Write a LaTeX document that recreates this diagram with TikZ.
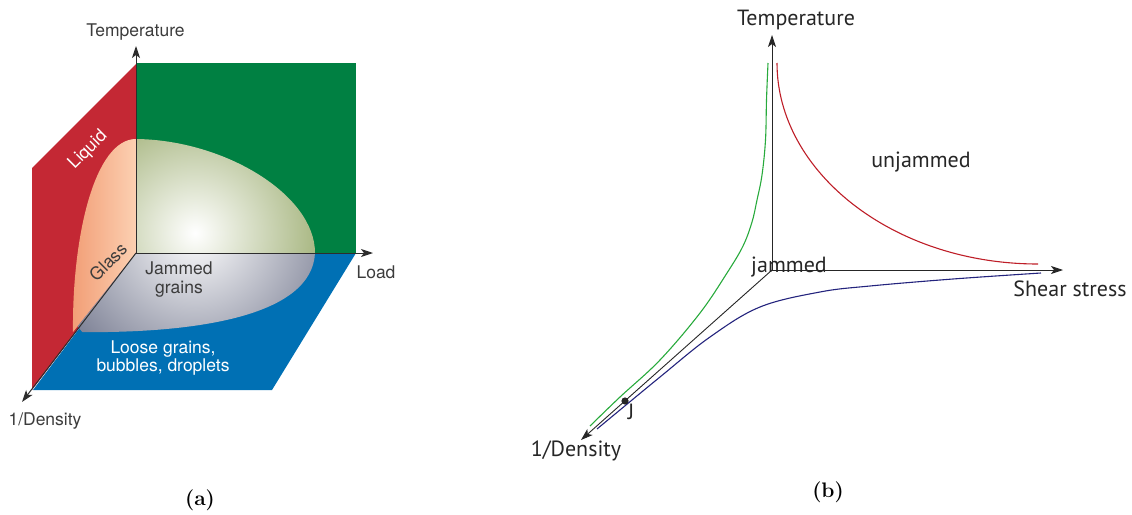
\documentclass[tikz,border=0pt]{standalone}
\usepackage{fontspec}
\usetikzlibrary{arrows.meta}
\newfontfamily\heros{TeX Gyre Heros}
\newfontfamily\ptsans{PT Sans}
\definecolor{redplane}{RGB}{196,40,52}
\definecolor{greenplane}{RGB}{0,128,66}
\definecolor{blueplane}{RGB}{0,112,180}
\definecolor{salmon}{RGB}{242,158,118}
\definecolor{peach}{RGB}{252,208,178}
\definecolor{olivec}{RGB}{160,176,118}
\definecolor{greyc}{RGB}{128,132,152}
\definecolor{axisgray}{RGB}{45,45,45}
\definecolor{txtgray}{RGB}{60,60,60}
\definecolor{cgreen}{RGB}{40,170,60}
\definecolor{cred}{RGB}{190,30,40}
\definecolor{cblue}{RGB}{35,35,125}
\begin{document}
\begin{tikzpicture}[x=1pt,y=-1pt,
  axisA/.style={draw=axisgray, line width=1pt, -{Stealth[length=12pt,width=8pt,inset=3pt]}},
  axisB/.style={draw=black!85, line width=0.9pt, -{Stealth[length=12pt,width=8pt,inset=3pt]}},
  lblA/.style={font=\heros\fontsize{17.5}{19}\selectfont, text=txtgray, inner sep=0pt},
  lblW/.style={font=\heros\fontsize{17.5}{18.5}\selectfont, text=white, inner sep=0pt, align=center},
  lblB/.style={font=\ptsans\fontsize{22}{24}\selectfont, text=black!85, inner sep=0pt},
  capt/.style={font=\bfseries\fontsize{21}{24}\selectfont, inner sep=0pt},
  curve/.style={line width=1.1pt}]
\useasboundingbox (0,0) rectangle (1132,514);

% ---------------- panel (a) ----------------
\coordinate (O1) at (136,253);
\coordinate (T1) at (136,46);
\coordinate (L1) at (373,253);
\coordinate (D1) at (22,402);

\fill[redplane] (32,168) -- (136,64) -- (136,253) -- (32,390) -- cycle;
\fill[greenplane] (136,63) rectangle (356,253);
\fill[blueplane] (136,253) -- (356,253) -- (272,390) -- (33,390) -- cycle;

% glass piece (on red plane)
\shade[left color=salmon, right color=peach]
  (136,139) -- (136,253) -- (73,332) .. controls (72,235) and (95,139) .. (136,139) -- cycle;
% jammed piece on green plane
\begin{scope}
  \clip (136,139) .. controls (225,140) and (315,195) .. (315,253) -- (136,253) -- cycle;
  \shade[inner color=white, outer color=olivec] (195,233) circle (135);
\end{scope}
% jammed piece on blue plane
\begin{scope}
  \clip (136,253) -- (315,253) .. controls (312,315) and (200,334) .. (73,332) -- cycle;
  \shade[inner color=white, outer color=greyc] (195,233) circle (150);
\end{scope}

\draw[axisA] (O1) -- (T1);
\draw[axisA] (O1) -- (L1);
\draw[axisA] (O1) -- (D1);

\node[lblA] (tempA) at (135.5,32) {Temperature};
\node[lblA] (loadA) at (376,272) {Load};
\node[lblA] (densA) at (45,421) {1/Density};
\node[lblW, rotate=45] (liq) at (88,150) {Liquid};
\node[lblA, rotate=45] (glass) at (108,262) {Glass};
\node[lblA, align=center] (jam) at (179,279.5) {Jammed\\grains};
\node[lblW] (loose) at (163,358) {Loose grains,\\bubbles, droplets};

\node[capt] (capa) at (200,500) {(a)};

% ---------------- panel (b) ----------------
\coordinate (O2) at (772,270);
\coordinate (T2) at (772,35);
\coordinate (S2) at (1063,270);
\coordinate (D2) at (581,440);

\draw[axisB] (O2) -- (T2);
\draw[axisB] (O2) -- (S2);
\draw[axisB] (O2) -- (D2);

\coordinate (gtop) at (768,63);
\coordinate (gbot) at (590,426);
\coordinate (rtop) at (777,63);
\coordinate (rend) at (1038,264);
\coordinate (bend) at (1041,273);
\coordinate (bbot) at (597,429);

\draw[curve, cgreen] plot[smooth, tension=0.6] coordinates {(768,63) (766.5,100) (765.5,140) (762,175) (757,200) (752,222) (743,246) (727,273) (700,313) (660,360) (620,397) (590,426)};
\draw[curve, cred] (rtop) .. controls (777,172) and (893,264) .. (rend);
\draw[curve, cblue] plot[smooth, tension=0.6] coordinates {(1041,273) (953,279) (870,286) (820,292) (760,307) (710,337) (660,377) (597,429)};

\fill[black!85] (625,401) circle (3.6) coordinate (J);

\node[lblB] (tempB) at (796,20) {Temperature};
\node[lblB] (shear) at (1070,289) {Shear stress};
\node[lblB] (densB) at (576,451) {1/Density};
\node[lblB] (unj) at (921,162) {unjammed};
\node[lblB] (jmd) at (789,267) {jammed};
\node[lblB] (jlab) at (631,412) {J};

\node[capt] (capb) at (828,492) {(b)};
\end{tikzpicture}
\end{document}
